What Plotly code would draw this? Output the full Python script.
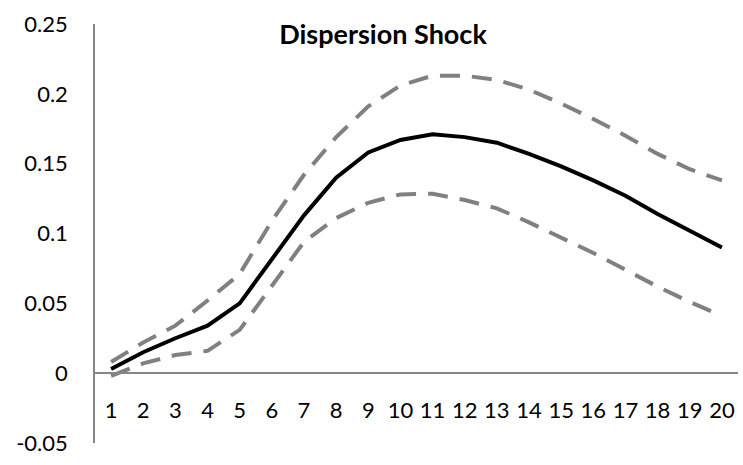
import plotly.graph_objects as go

periods = list(range(1, 21))
irf = [0.003, 0.015, 0.025, 0.034, 0.050, 0.081, 0.113, 0.140, 0.158, 0.167,
       0.171, 0.169, 0.165, 0.157, 0.148, 0.138, 0.127, 0.114, 0.102, 0.090]
upper = [0.008, 0.022, 0.034, 0.052, 0.071, 0.109, 0.142, 0.169, 0.191, 0.206,
         0.213, 0.213, 0.210, 0.203, 0.193, 0.182, 0.170, 0.157, 0.146, 0.138]
lower = [-0.002, 0.007, 0.013, 0.016, 0.031, 0.063, 0.094, 0.111, 0.122, 0.128,
         0.1285, 0.124, 0.118, 0.108, 0.097, 0.086, 0.074, 0.062, 0.051, 0.041]
y_ticks = [-0.05, 0, 0.05, 0.1, 0.15, 0.2, 0.25]
y_tick_labels = ["-0.05", "0", "0.05", "0.1", "0.15", "0.2", "0.25"]
title = "Dispersion Shock"

ymin, ymax = -0.05, 0.25
font = "Lato, 'Open Sans', sans-serif"

fig = go.Figure()
dash_style = dict(color="#808080", width=4, dash="20px,12px")
fig.add_trace(go.Scatter(x=periods, y=upper, mode="lines", line=dash_style, showlegend=False))
fig.add_trace(go.Scatter(x=periods, y=lower, mode="lines", line=dash_style, showlegend=False))
fig.add_trace(go.Scatter(x=periods, y=irf, mode="lines",
                         line=dict(color="#000000", width=4), showlegend=False))

fig.update_layout(
    width=743, height=465,
    margin=dict(l=95, r=5, t=24, b=22, autoexpand=False),
    paper_bgcolor="white", plot_bgcolor="white",
    font=dict(family=font, size=22, color="#000000"),
    title=dict(text="<b>" + title + "</b>", x=383/743, xanchor="center",
               y=1 - 35/465, yanchor="middle",
               font=dict(family=font, size=27, color="#000000")),
    xaxis=dict(
        range=[0.5, 20.5], tickmode="array", tickvals=periods,
        ticktext=[str(p) for p in periods],
        showgrid=False, zeroline=False, showline=True, linecolor="#868686",
        linewidth=1.5, ticks="", anchor="free", automargin=False,
        position=(0 - ymin) / (ymax - ymin), ticklabelstandoff=18,
        tickfont=dict(size=22),
    ),
    yaxis=dict(
        range=[ymin, ymax], tickmode="array", tickvals=y_ticks, ticktext=y_tick_labels,
        showgrid=False, zeroline=False, showline=True, linecolor="#868686",
        linewidth=1.5, ticks="", ticklabelstandoff=21, automargin=False,
        tickfont=dict(size=22),
    ),
)

fig.write_html("out.html", config={"displayModeBar": False},
               post_script="document.body.style.margin='0';document.body.style.overflow='hidden';")
